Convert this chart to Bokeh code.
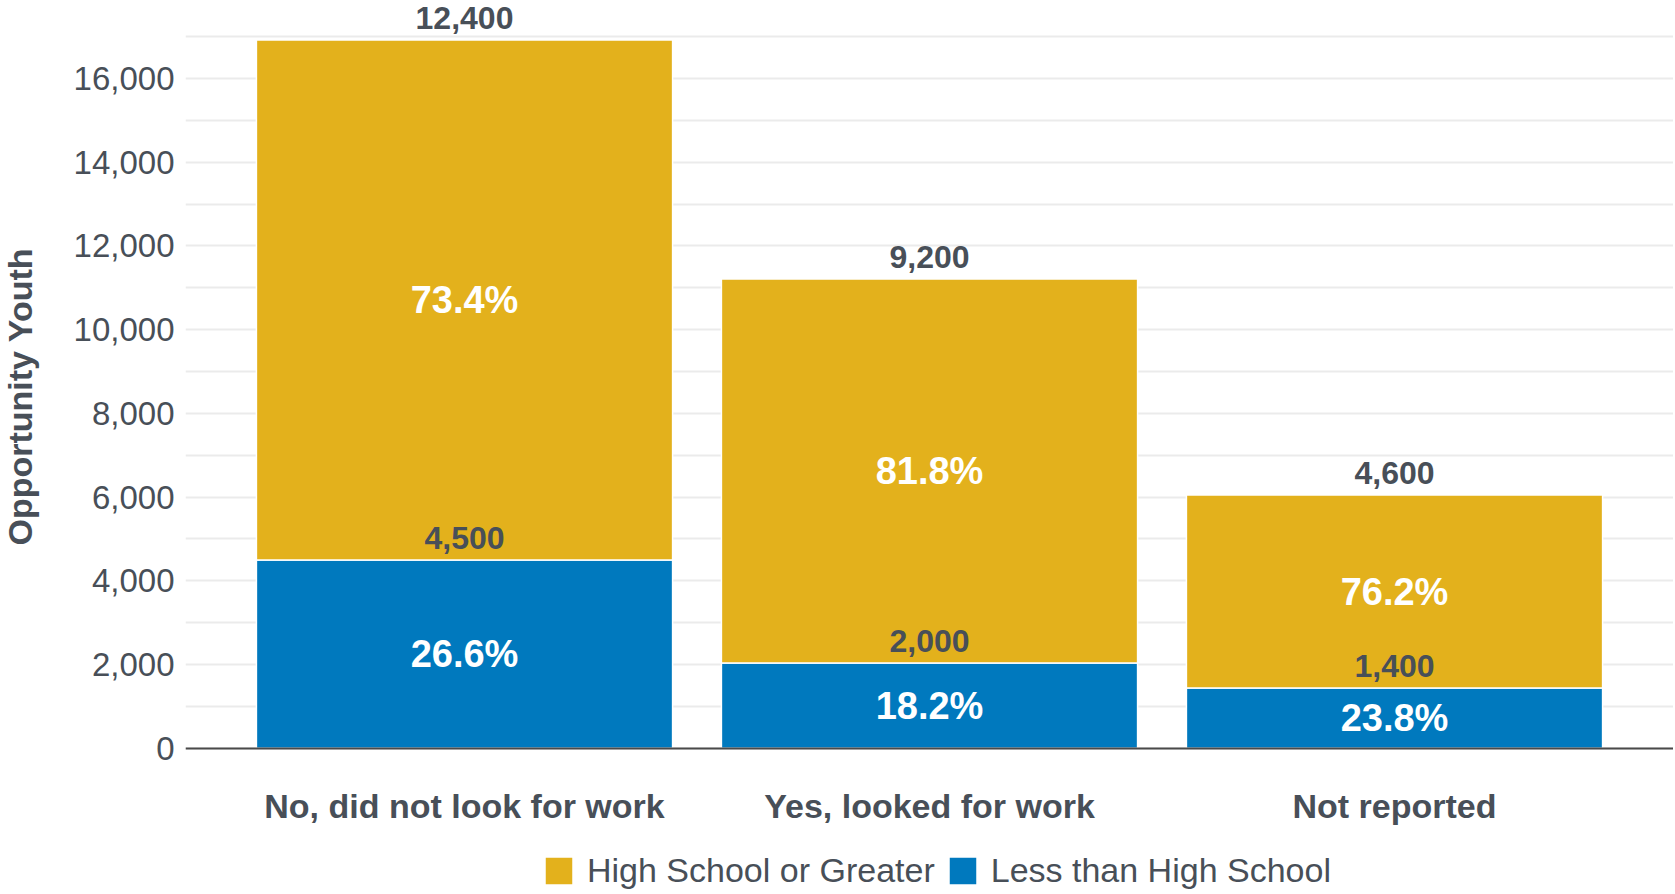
from bokeh.plotting import figure
from bokeh.models import (ColumnDataSource, FixedTicker, Legend, LegendItem,
                          NumeralTickFormatter, Range1d, FactorRange, Title)
from bokeh.core.properties import value
from bokeh.embed import file_html
from bokeh.resources import INLINE

# ---- data ----
categories = ["No, did not look for work", "Yes, looked for work", "Not reported"]
less_than_hs = [4500, 2040, 1440]
hs_or_greater = [12420, 9170, 4610]
series_names = ["High School or Greater", "Less than High School"]
y_title = "Opportunity Youth"
y_ticks = [0, 2000, 4000, 6000, 8000, 10000, 12000, 14000, 16000]
grid_ticks = [0, 1000, 2000, 3000, 4000, 5000, 6000, 7000, 8000, 9000, 10000,
              11000, 12000, 13000, 14000, 15000, 16000, 17000]

GOLD = "#E3B11C"
BLUE = "#0079BE"
TEXT = "#484F58"
GRID = "#EBEBEB"
FONT = "Liberation Sans"

totals = [a + b for a, b in zip(less_than_hs, hs_or_greater)]


def fmt(v):
    r = int(round(v / 100.0)) * 100
    return f"{r:,}"


src = ColumnDataSource(dict(
    cat=categories,
    less=less_than_hs,
    hs=hs_or_greater,
    total=totals,
    less_lbl=[fmt(v) for v in less_than_hs],
    hs_lbl=[fmt(v) for v in hs_or_greater],
    less_pct=[f"{100.0 * l / t:.1f}%" for l, t in zip(less_than_hs, totals)],
    hs_pct=[f"{100.0 * h / t:.1f}%" for h, t in zip(hs_or_greater, totals)],
    less_mid=[l / 2.0 for l in less_than_hs],
    hs_mid=[l + h / 2.0 for l, h in zip(less_than_hs, hs_or_greater)],
))

# frame covers the whole height; the value axis keeps the same scale as the original
p = figure(x_range=FactorRange(*categories), y_range=Range1d(-3445, 17864),
           frame_width=1488, frame_height=892,
           output_backend="svg", toolbar_location=None,
           min_border_left=184, min_border_right=0, min_border_top=0, min_border_bottom=0)
p.outline_line_color = None
p.background_fill_color = "white"
p.x_range.range_padding = 0.2 / 3

r_less = p.vbar(x="cat", top="less", bottom=0, width=0.895, source=src,
                fill_color=BLUE, line_color="white", line_width=1.5)
r_hs = p.vbar(x="cat", top="total", bottom="less", width=0.895, source=src,
              fill_color=GOLD, line_color="white", line_width=1.5)

# value labels
for ycol, tcol in (("less", "less_lbl"), ("total", "hs_lbl")):
    p.text(x="cat", y=ycol, text=tcol, source=src, text_align="center",
           text_baseline="alphabetic", y_offset=-22, text_color=TEXT,
           text_font=value(FONT), text_font_style="bold", text_font_size="32px")
# percent labels
for ycol, tcol in (("less_mid", "less_pct"), ("hs_mid", "hs_pct")):
    p.text(x="cat", y=ycol, text=tcol, source=src, text_align="center",
           text_baseline="middle", text_color="white",
           text_font=value(FONT), text_font_style="bold", text_font_size="38px")

# grid
p.xgrid.grid_line_color = None
p.ygrid.ticker = FixedTicker(ticks=grid_ticks)
p.ygrid.grid_line_color = GRID
p.ygrid.grid_line_width = 2
p.ygrid.level = "underlay"

# y axis
p.yaxis.ticker = FixedTicker(ticks=y_ticks)
p.yaxis.formatter = NumeralTickFormatter(format="0,0")
p.yaxis.axis_line_color = None
p.yaxis.major_tick_line_color = None
p.yaxis.major_tick_out = 0
p.yaxis.minor_tick_line_color = None
p.yaxis.major_label_text_font = FONT
p.yaxis.major_label_text_font_size = "33px"
p.yaxis.major_label_text_color = TEXT
p.yaxis.major_label_standoff = 11
# blank spacer label to push the title to the left edge
p.yaxis.axis_label = " "
p.yaxis.axis_label_text_font_size = "10px"
p.yaxis.axis_label_standoff = 16

# y axis title (left-side title, offset measured from the bottom of the frame)
p.add_layout(Title(text=y_title, align="left", offset=347, standoff=0,
                   vertical_align="top",
                   text_font=FONT, text_font_style="bold", text_font_size="34px",
                   text_color=TEXT), "left")

# x axis drawn at value 0
p.xaxis.fixed_location = 0
p.xaxis.axis_line_color = "#4A4A4A"
p.xaxis.axis_line_width = 2
p.xaxis.major_tick_line_color = None
p.xaxis.major_tick_out = 0
p.xaxis.minor_tick_line_color = None
p.xaxis.major_label_text_font = FONT
p.xaxis.major_label_text_font_style = "bold"
p.xaxis.major_label_text_font_size = "34px"
p.xaxis.major_label_text_color = TEXT
p.xaxis.major_label_standoff = 39

legend = Legend(items=[LegendItem(label=series_names[0], renderers=[r_hs]),
                       LegendItem(label=series_names[1], renderers=[r_less])],
                orientation="horizontal", location=(356, 2))
legend.border_line_color = None
legend.background_fill_alpha = 0
legend.label_text_font = FONT
legend.label_text_font_size = "34px"
legend.label_text_color = TEXT
legend.glyph_width = 35
legend.glyph_height = 35
legend.label_standoff = 11
legend.spacing = 10
legend.padding = 0
legend.margin = 0
p.add_layout(legend, "center")

open("out.html", "w").write(file_html(p, INLINE))
